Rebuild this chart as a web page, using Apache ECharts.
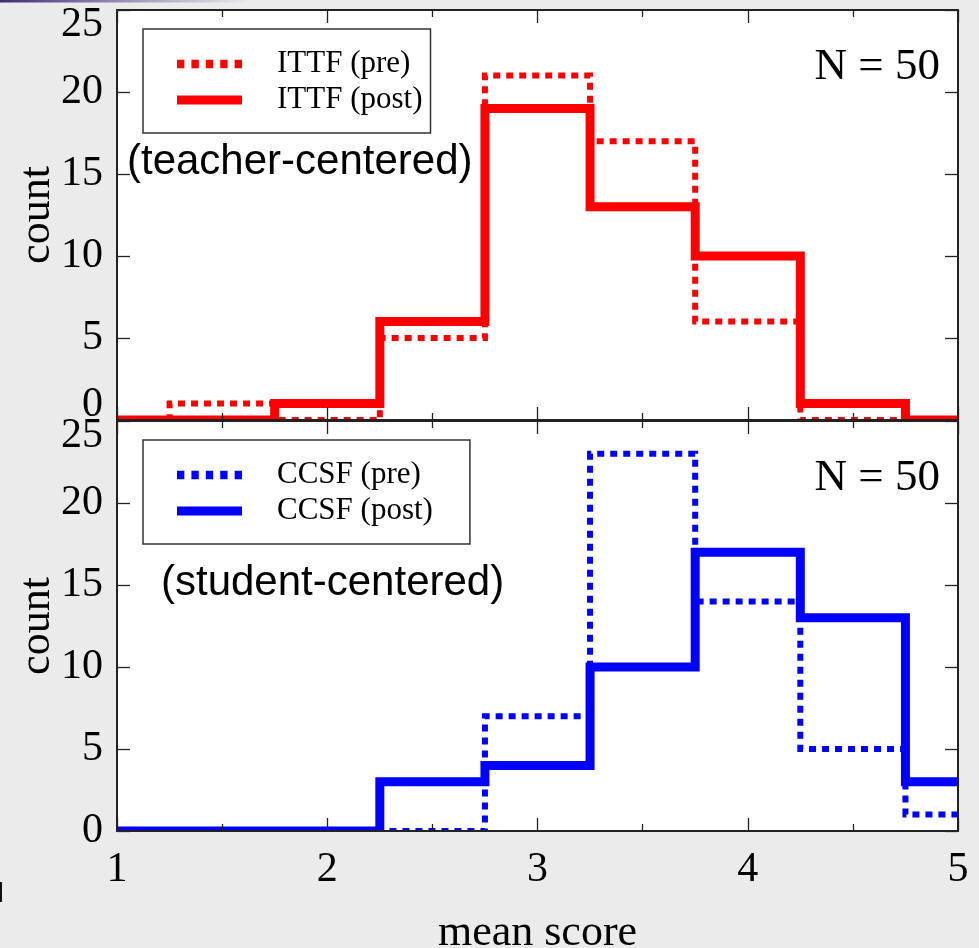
<!DOCTYPE html>
<html><head><meta charset="utf-8">
<script src="https://cdn.jsdelivr.net/npm/echarts@6/dist/echarts.min.js"></script>
<style>html,body{margin:0;padding:0;background:#ebebeb}#c{width:979px;height:948px}</style>
</head><body><div id="c"></div>
<script>
// ---- data ----
const binCenters = [1.0, 1.5, 2.0, 2.5, 3.0, 3.5, 4.0, 4.5, 5.0];
const binWidth = 0.5;
const ittfPre  = [0, 1, 0, 5, 21, 17, 6, 0, 0];
const ittfPost = [0, 0, 1, 6, 19, 13, 10, 1, 0];
const ccsfPre  = [0, 0, 0, 0, 7, 23, 14, 5, 1];
const ccsfPost = [0, 0, 0, 3, 4, 10, 17, 13, 3];
const xRange = [1, 5];
const yRange = [0, 25];
const topNames = ['ITTF (pre)', 'ITTF (post)'];
const botNames = ['CCSF (pre)', 'CCSF (post)'];

const SERIF = "'Liberation Serif', 'Times New Roman', serif";
const SANS = "'Liberation Sans', Arial, sans-serif";
const RED = '#ff0000', BLUE = '#0000ff';
const DASH = [7, 6];
const DOT_ICON = 'path://M0,0h7v8h-7zM13.75,0h7v8h-7zM27.5,0h7v8h-7zM41.25,0h7v8h-7zM55,0h7v8h-7z';
const SOLID_ICON = 'path://M0,0h65v9h-65z';

function xAx(grid, pos, showLabels, name) {
  return {
    type: 'value', gridIndex: grid, position: pos, min: xRange[0], max: xRange[1], interval: 1, z: 5,
    splitLine: { show: false },
    axisLine: { show: true, onZero: false, lineStyle: { color: '#222', width: 2 } },
    axisTick: { show: true, inside: true, length: 13, lineStyle: { color: '#222', width: 1.3 } },
    minorTick: { show: true, splitNumber: 2, length: 7, lineStyle: { color: '#222', width: 1.3 } },
    axisLabel: { show: showLabels, fontFamily: SERIF, fontSize: 42, color: '#000', margin: 18 },
    name: name || '', nameLocation: 'middle', nameGap: 80, nameMoveOverlap: false,
    nameTextStyle: { fontFamily: SERIF, fontSize: 44, color: '#000' }
  };
}
function yAx(grid, pos, showLabels, minAlign) {
  const lab = { show: showLabels, fontFamily: SERIF, fontSize: 42, lineHeight: 30, color: '#000', margin: 14,
    verticalAlignMaxLabel: 'top' };
  if (minAlign) lab.verticalAlignMinLabel = minAlign;
  return {
    type: 'value', gridIndex: grid, position: pos, min: yRange[0], max: yRange[1], interval: 5, z: 5,
    splitLine: { show: false },
    axisLine: { show: true, onZero: false, lineStyle: { color: '#222', width: 2 } },
    axisTick: { show: true, inside: true, length: 13, lineStyle: { color: '#222', width: 1.3 } },
    axisLabel: lab,
    name: showLabels ? 'count' : '', nameLocation: 'middle', nameGap: 58, nameMoveOverlap: false,
    nameTextStyle: { fontFamily: SERIF, fontSize: 44, color: '#000' }
  };
}

function legend(names, color, top, padRight) {
  return {
    orient: 'vertical', left: 143, top: top,
    padding: [17, padRight, 15, 34],
    backgroundColor: '#fff', borderColor: '#333', borderWidth: 1.5,
    itemWidth: 65, itemHeight: 14, itemGap: 0, selectedMode: false,
    textStyle: { fontFamily: SERIF, fontSize: 31, color: '#000', lineHeight: 36, padding: [0, 0, 0, 30] },
    data: [
      { name: names[0], icon: DOT_ICON, itemStyle: { color: color, borderWidth: 0 } },
      { name: names[1], icon: SOLID_ICON, itemStyle: { color: color, borderWidth: 0 } }
    ]
  };
}

function stepSeries(name, vals, gi, color, dashed) {
  return {
    type: 'custom', name: name, xAxisIndex: gi * 2, yAxisIndex: gi * 2, clip: true, z: 2,
    lineStyle: { width: 0 },
    itemStyle: { color: color },
    data: binCenters.map((c, i) => [c, vals[i]]),
    encode: { x: 0, y: 1 },
    renderItem: function (params, api) {
      if (params.dataIndexInside !== 0) return null;
      const n = params.dataInsideLength;
      const pts = [];
      for (let i = 0; i < n; i++) {
        const c = api.value(0, i), v = api.value(1, i);
        pts.push(api.coord([c - binWidth / 2, v]));
        pts.push(api.coord([c + binWidth / 2, v]));
      }
      return {
        type: 'polyline', shape: { points: pts },
        style: { stroke: color, fill: null, lineWidth: dashed ? 6 : 9, lineDash: dashed ? DASH : null,
          lineJoin: 'miter', lineCap: 'butt' }
      };
    }
  };
}

const chart = echarts.init(document.getElementById('c'), null, { renderer: 'canvas' });
chart.setOption({
  animation: false,
  backgroundColor: '#ebebeb',
  grid: [
    { left: 117, right: 21, top: 10, height: 410, show: true, backgroundColor: '#fff', borderWidth: 0, outerBoundsMode: 'none', containLabel: false },
    { left: 117, right: 21, top: 421, height: 410, show: true, backgroundColor: '#fff', borderWidth: 0, outerBoundsMode: 'none', containLabel: false }
  ],
  xAxis: [xAx(0, 'bottom', false), xAx(0, 'top', false), xAx(1, 'bottom', true, 'mean score'), xAx(1, 'top', false)],
  yAxis: [yAx(0, 'left', true, 'bottom'), yAx(0, 'right', false), yAx(1, 'left', true, null), yAx(1, 'right', false)],
  legend: [legend(topNames, RED, 29, 8), legend(botNames, BLUE, 440, 37)],
  series: [
    stepSeries(topNames[0], ittfPre, 0, RED, true),
    stepSeries(topNames[1], ittfPost, 0, RED, false),
    stepSeries(botNames[0], ccsfPre, 1, BLUE, true),
    stepSeries(botNames[1], ccsfPost, 1, BLUE, false)
  ],
  graphic: [
    { type: 'text', x: 127, y: 162, z: 100, style: { text: '(teacher-centered)', font: '42px ' + SANS, fill: '#000', verticalAlign: 'middle', align: 'left' } },
    { type: 'text', x: 161, y: 583, z: 100, style: { text: '(student-centered)', font: '42px ' + SANS, fill: '#000', verticalAlign: 'middle', align: 'left' } },
    { type: 'text', x: 940, y: 67, z: 100, style: { text: 'N = 50', font: '45px ' + SERIF, fill: '#000', verticalAlign: 'middle', align: 'right' } },
    { type: 'text', x: 940, y: 478, z: 100, style: { text: 'N = 50', font: '45px ' + SERIF, fill: '#000', verticalAlign: 'middle', align: 'right' } },
    { type: 'line', z: 100, shape: { x1: 0, y1: 1, x2: 250, y2: 1 }, style: { lineWidth: 3, stroke: new echarts.graphic.LinearGradient(0, 0, 1, 0, [{ offset: 0, color: '#3b2a6e' }, { offset: 1, color: 'rgba(90,70,140,0)' }]) } },
    { type: 'rect', z: 100, shape: { x: 0, y: 882, width: 2, height: 20 }, style: { fill: '#111' } }
  ]
});
</script></body></html>
